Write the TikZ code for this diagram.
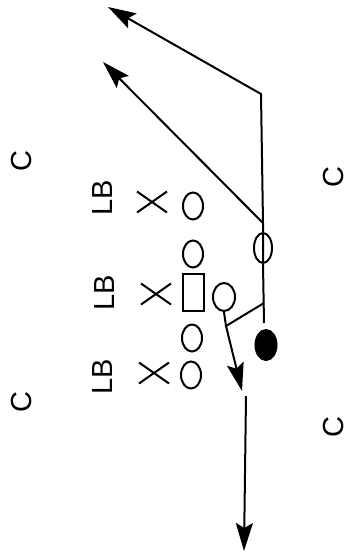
\documentclass[tikz,border=0pt]{standalone}
\usepackage{fontspec}
\setmainfont{Liberation Sans}
\usetikzlibrary{arrows.meta,shapes.geometric,shapes.misc}

\begin{document}
\begin{tikzpicture}[x=1pt,y=-1pt,line width=2pt,
    every node/.style={inner sep=0pt},
    lbl/.style={rotate=90,font=\fontsize{29}{30}\selectfont},
    oman/.style={draw,ellipse,minimum width=20pt,minimum height=27pt},
    cman/.style={draw,rectangle,minimum width=21pt,minimum height=37pt},
    xman/.style={draw,cross out,minimum width=28pt,minimum height=19pt},
    route/.style={-{Stealth[length=28pt,width=17pt,inset=5pt]}}]
  \useasboundingbox (0,0) rectangle (349,555);
  % corners
  \node[lbl] (c1) at (22,161) {C};
  \node[lbl] (c2) at (334,177) {C};
  \node[lbl] (c3) at (22,402) {C};
  \node[lbl] (c4) at (334,427) {C};
  % linebackers
  \node[lbl] (lb1) at (103,198) {LB};
  \node[lbl] (lb2) at (105,293) {LB};
  \node[lbl] (lb3) at (103,377) {LB};
  \node[xman] (x1) at (152,202) {};
  \node[xman] (x2) at (156,294) {};
  \node[xman] (x3) at (154,373) {};
  % line
  \node[oman] (o1) at (193,206) {};
  \node[oman] (o2) at (193,254) {};
  \node[cman] (ctr) at (193,292) {};
  \node[oman] (o4) at (192,338) {};
  \node[oman] (o5) at (191,375) {};
  % backs
  \node[oman,minimum width=22pt,minimum height=28pt] (qb) at (224,297) {};
  \node[oman,minimum width=18pt,minimum height=30pt] (hb) at (263,248) {};
  \node[draw,ellipse,fill=black,minimum width=21pt,minimum height=30pt] (fb) at (266,345) {};
  \coordinate (top) at (263,223);
  \coordinate (bend) at (261,94);
  \coordinate (tip1) at (108,7);
  \coordinate (tip2) at (103,62);
  \coordinate (v) at (264,303);
  \coordinate (vend) at (264,323);
  \coordinate (k) at (226,326);
  \coordinate (tip3) at (242,391);
  \coordinate (go) at (246,396);
  \coordinate (tip4) at (244,551);
  % routes
  \draw[route] (top) -- (bend) -- (tip1);
  \draw[route] (top) -- (tip2);
  \draw (top) -- (hb.north) -- (hb.south) -- (vend);
  \draw (v) -- (k);
  \draw[route] (qb.south) -- (k) -- (tip3);
  \draw[route] (go) -- (tip4);
\end{tikzpicture}
\end{document}
